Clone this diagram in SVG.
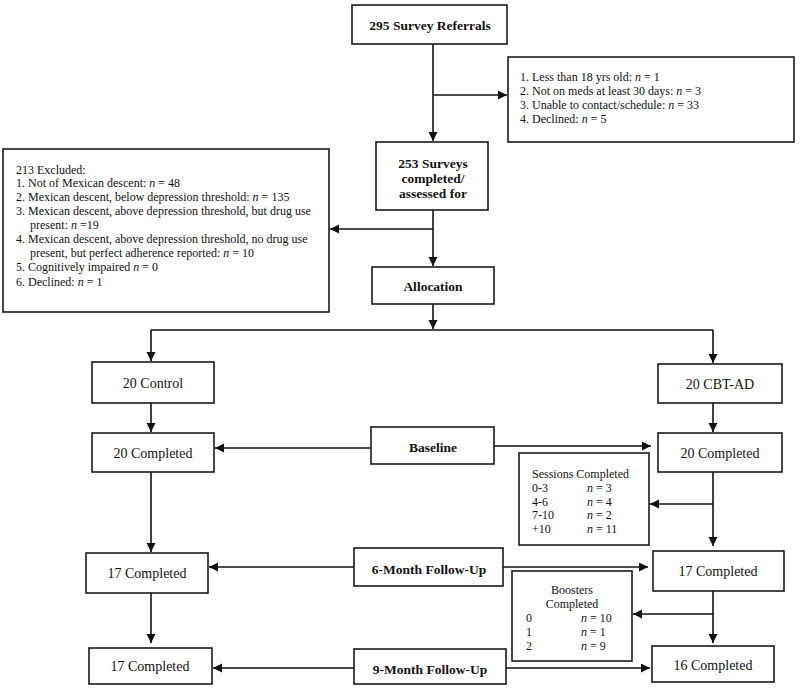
<svg xmlns="http://www.w3.org/2000/svg" width="800" height="691" viewBox="0 0 800 691">
<style>
.box{fill:#fff;stroke:#1a1a1a;stroke-width:1.6}
.t{font-family:"Liberation Serif","Times New Roman",serif;font-size:12px;fill:#111}
.lb{font-family:"Liberation Serif","Times New Roman",serif;font-size:14px;fill:#111;text-anchor:middle}
.b{font-family:"Liberation Serif","Times New Roman",serif;font-size:13.5px;font-weight:bold;fill:#111;text-anchor:middle}
.c{text-anchor:middle}
.ln{fill:none;stroke:#111;stroke-width:1.6}
.arr{marker-end:url(#ah)}
</style>
<defs>
<marker id="ah" markerUnits="userSpaceOnUse" markerWidth="10" markerHeight="10" refX="9" refY="4.5" orient="auto">
<path d="M0,0 L9,4.5 L0,9 z" fill="#111"/>
</marker>
</defs>
<rect width="800" height="691" fill="#fff"/>
<g id="connectors">
<path class="ln arr" d="M433,44 V141"/>
<path class="ln arr" d="M433,95 H507"/>
<path class="ln arr" d="M433,210 V266"/>
<path class="ln arr" d="M433,229 H330"/>
<path class="ln arr" d="M433,304 V329"/>
<path class="ln" d="M151,330 H713"/>
<path class="ln arr" d="M151,330 V361"/>
<path class="ln arr" d="M713,330 V363"/>
<path class="ln arr" d="M151,403 V432"/>
<path class="ln arr" d="M713,403 V432"/>
<path class="ln arr" d="M371,448 H215"/>
<path class="ln arr" d="M494,446 H651"/>
<path class="ln arr" d="M713,472 V546"/>
<path class="ln arr" d="M713,504 H650"/>
<path class="ln arr" d="M151,472 V552"/>
<path class="ln arr" d="M354,567 H209"/>
<path class="ln arr" d="M503,567 H648"/>
<path class="ln arr" d="M151,593 V643"/>
<path class="ln arr" d="M713,591 V643"/>
<path class="ln arr" d="M713,614 H633"/>
<path class="ln arr" d="M354,668 H213"/>
<path class="ln arr" d="M506,668 H650"/>
</g>
<g id="referrals">
<rect class="box" x="352" y="5" width="155" height="39"/>
<text class="b" x="430" y="30">295 Survey Referrals</text>
</g>
<g id="exclusion1">
<rect class="box" x="508" y="57" width="286" height="85"/>
<text class="t" x="520" y="81">1. Less than 18 yrs old: <tspan font-style="italic">n</tspan> = 1</text>
<text class="t" x="520" y="95">2. Not on meds at least 30 days: <tspan font-style="italic">n</tspan> = 3</text>
<text class="t" x="520" y="109">3. Unable to contact/schedule: <tspan font-style="italic">n</tspan> = 33</text>
<text class="t" x="520" y="123">4. Declined: <tspan font-style="italic">n</tspan> = 5</text>
</g>
<g id="surveys">
<rect class="box" x="376" y="142" width="112" height="68"/>
<text class="b" x="433" y="168">253 Surveys</text>
<text class="b" x="433" y="183">completed/</text>
<text class="b" x="433" y="198">assessed for</text>
</g>
<g id="exclusion2">
<rect class="box" x="3" y="149" width="326" height="163"/>
<text class="t" x="16" y="174">213 Excluded:</text>
<text class="t" x="16" y="187">1. Not of Mexican descent: <tspan font-style="italic">n</tspan> = 48</text>
<text class="t" x="16" y="201">2. Mexican descent, below depression threshold: <tspan font-style="italic">n</tspan> = 135</text>
<text class="t" x="16" y="215">3. Mexican descent, above depression threshold, but drug use</text>
<text class="t" x="30" y="229">present: <tspan font-style="italic">n</tspan> =19</text>
<text class="t" x="16" y="243">4. Mexican descent, above depression threshold, no drug use</text>
<text class="t" x="30" y="257">present, but perfect adherence reported: <tspan font-style="italic">n</tspan> = 10</text>
<text class="t" x="16" y="271">5. Cognitively impaired <tspan font-style="italic">n</tspan> = 0</text>
<text class="t" x="16" y="286">6. Declined: <tspan font-style="italic">n</tspan> = 1</text>
</g>
<g id="allocation">
<rect class="box" x="372" y="267" width="122" height="37"/>
<text class="b" x="433" y="291">Allocation</text>
</g>
<g id="control">
<rect class="box" x="92" y="362" width="122" height="41"/>
<text class="lb" x="153" y="388">20 Control</text>
</g>
<g id="cbtad">
<rect class="box" x="658" y="364" width="124" height="39"/>
<text class="lb" x="720" y="389">20 CBT-AD</text>
</g>
<g id="control-baseline">
<rect class="box" x="92" y="433" width="122" height="39"/>
<text class="lb" x="153" y="458">20 Completed</text>
</g>
<g id="baseline">
<rect class="box" x="371" y="427" width="123" height="37"/>
<text class="b" x="433" y="452">Baseline</text>
</g>
<g id="cbtad-baseline">
<rect class="box" x="658" y="433" width="124" height="39"/>
<text class="lb" x="720" y="458">20 Completed</text>
</g>
<g id="sessions">
<rect class="box" x="519" y="453" width="130" height="92"/>
<text class="t" x="532" y="478">Sessions Completed</text>
<text class="t" x="532" y="492">0-3</text><text class="t" x="587" y="492"><tspan font-style="italic">n</tspan> = 3</text>
<text class="t" x="532" y="506">4-6</text><text class="t" x="587" y="506"><tspan font-style="italic">n</tspan> = 4</text>
<text class="t" x="532" y="519">7-10</text><text class="t" x="587" y="519"><tspan font-style="italic">n</tspan> = 2</text>
<text class="t" x="532" y="533">+10</text><text class="t" x="587" y="533"><tspan font-style="italic">n</tspan> = 11</text>
</g>
<g id="control-6m">
<rect class="box" x="86" y="553" width="122" height="40"/>
<text class="lb" x="147" y="578">17 Completed</text>
</g>
<g id="month6">
<rect class="box" x="354" y="548" width="149" height="38"/>
<text class="b" x="429" y="574">6-Month Follow-Up</text>
</g>
<g id="cbtad-6m">
<rect class="box" x="653" y="551" width="131" height="40"/>
<text class="lb" x="718" y="576">17 Completed</text>
</g>
<g id="boosters">
<rect class="box" x="512" y="571" width="120" height="90"/>
<text class="t c" x="572" y="594">Boosters</text>
<text class="t c" x="572" y="608">Completed</text>
<text class="t" x="526" y="622">0</text><text class="t" x="581" y="622"><tspan font-style="italic">n</tspan> = 10</text>
<text class="t" x="526" y="636">1</text><text class="t" x="581" y="636"><tspan font-style="italic">n</tspan> = 1</text>
<text class="t" x="526" y="650">2</text><text class="t" x="581" y="650"><tspan font-style="italic">n</tspan> = 9</text>
</g>
<g id="control-9m">
<rect class="box" x="89" y="648" width="123" height="36"/>
<text class="lb" x="150" y="671">17 Completed</text>
</g>
<g id="month9">
<rect class="box" x="354" y="649" width="152" height="35"/>
<text class="b" x="430" y="674">9-Month Follow-Up</text>
</g>
<g id="cbtad-9m">
<rect class="box" x="652" y="646" width="122" height="36"/>
<text class="lb" x="713" y="670">16 Completed</text>
</g>
</svg>
